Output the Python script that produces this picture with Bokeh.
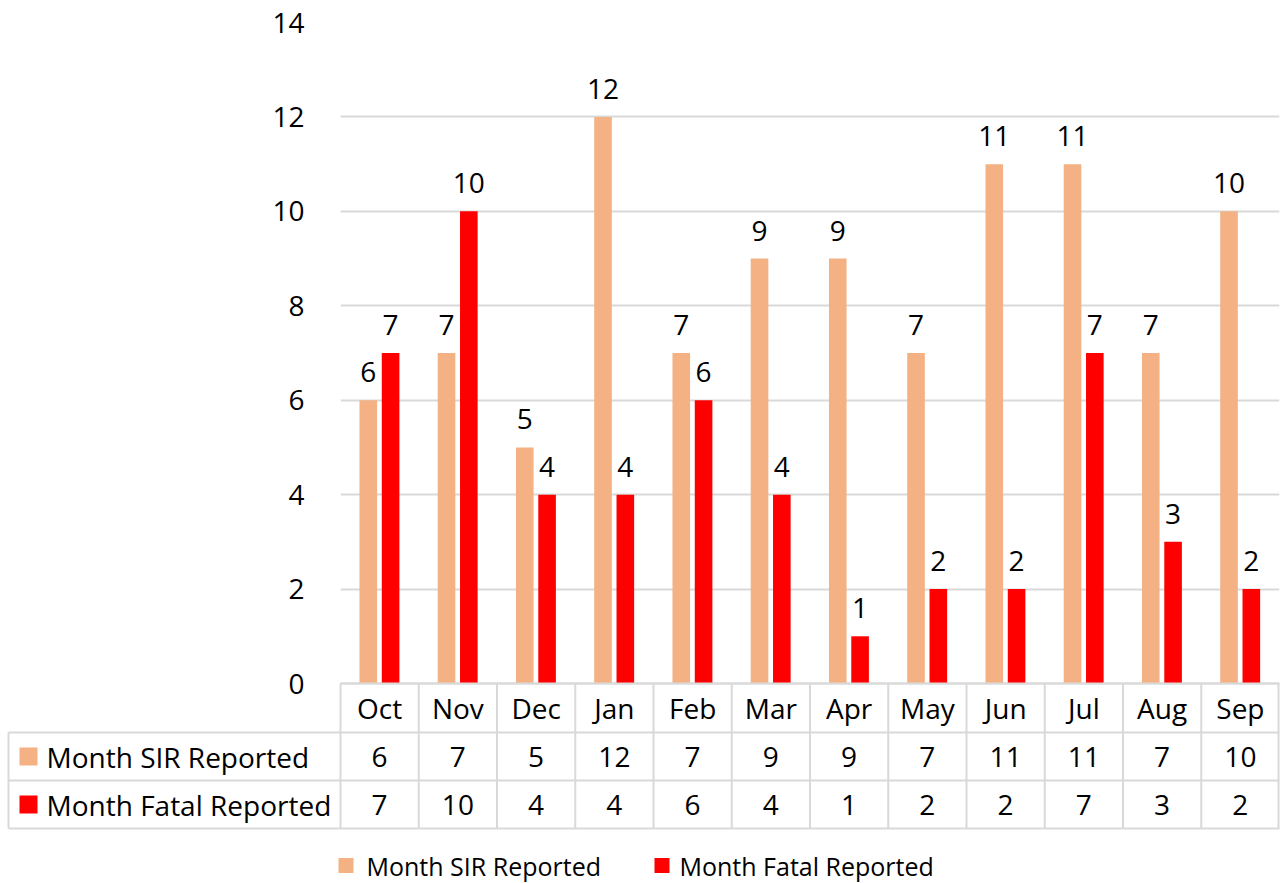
from bokeh.plotting import figure
from bokeh.models import ColumnDataSource, FixedTicker, Range1d
from bokeh.core.properties import value
from bokeh.embed import file_html
from bokeh.resources import INLINE

months = ["Oct", "Nov", "Dec", "Jan", "Feb", "Mar", "Apr", "May", "Jun", "Jul", "Aug", "Sep"]
sir = [6, 7, 5, 12, 7, 9, 9, 7, 11, 11, 7, 10]
fatal = [7, 10, 4, 4, 6, 4, 1, 2, 2, 7, 3, 2]
y_ticks = [0, 2, 4, 6, 8, 10, 12, 14]
series_names = ["Month SIR Reported", "Month Fatal Reported"]
series_colors = ["#F4B183", "#FF0000"]

FONT = "Open Sans"
FS = "28px"
GRID = "#D9D9D9"
W = 1280
H = 883
LEFT = 340
RIGHT = 1279
TOP = 22
ZERO = 683

n = len(months)
CAT_PX = (RIGHT - LEFT) / n
PXU = (ZERO - TOP) / 14.0
Y_START = -(H - ZERO) / PXU
X0 = -LEFT / CAT_PX
px = 1.0 / CAT_PX
py = 1.0 / PXU

idx = list(range(n))
src = ColumnDataSource(dict(
    xs=[i + 0.355 for i in idx], xf=[i + 0.64 for i in idx],
    sir=sir, fatal=fatal,
    sir_s=[str(v) for v in sir], fatal_s=[str(v) for v in fatal],
))

p = figure(x_range=Range1d(0, n), y_range=Range1d(Y_START, 14.0), width=W, height=H,
           output_backend="svg", toolbar_location=None, x_axis_location=None,
           min_border_left=LEFT, min_border_right=W - RIGHT, min_border_top=TOP,
           min_border_bottom=0)
p.outline_line_color = None
p.xgrid.visible = False
p.ygrid.ticker = FixedTicker(ticks=y_ticks)
p.ygrid.grid_line_color = GRID
p.ygrid.grid_line_width = 2
ax = p.yaxis[0]
ax.ticker = FixedTicker(ticks=y_ticks)
ax.axis_line_color = None
ax.major_tick_line_color = None
ax.minor_tick_line_color = None
ax.major_label_text_font = FONT
ax.major_label_text_font_size = FS
ax.major_label_text_color = "#000000"
ax.major_label_standoff = 30

for xc, col, lab, colr in [("xs", "sir", "sir_s", series_colors[0]),
                            ("xf", "fatal", "fatal_s", series_colors[1])]:
    p.vbar(x=xc, top=col, width=0.225, source=src, fill_color=colr, line_color=None)
    p.text(x=xc, y=col, text=lab, source=src,
           text_align="center", text_baseline="alphabetic", y_offset=-28,
           text_font=value(FONT), text_font_size=FS, text_color="#000000")

# ---- data table ----
r1, r2, r3 = -49 * py, -97 * py, -145 * py
xs0, ys0, xs1, ys1 = [], [], [], []
xs0 += [0]; ys0 += [0]; xs1 += [n]; ys1 += [0]
for r in [r1, r2, r3]:
    xs0.append(X0 + 8 * px); ys0.append(r); xs1.append(n); ys1.append(r)
for b in range(n + 1):
    xb = min(b, n - px)
    xs0.append(xb); ys0.append(0); xs1.append(xb); ys1.append(r3)
xs0.append(X0 + 8 * px); ys0.append(r1); xs1.append(X0 + 8 * px); ys1.append(r3)
p.segment(x0=xs0, y0=ys0, x1=xs1, y1=ys1, line_color=GRID, line_width=2, level="overlay")

centers = [i + 0.5 for i in idx]
for yy, txt in [((0 + r1) / 2, months), ((r1 + r2) / 2, [str(v) for v in sir]),
                ((r2 + r3) / 2, [str(v) for v in fatal])]:
    p.text(x=centers, y=[yy] * n, text=txt, text_align="center", text_baseline="middle",
           text_font=value(FONT), text_font_size=FS, text_color="#000000")

ym1, ym2 = (r1 + r2) / 2, (r2 + r3) / 2
# legend keys inside the table (squares drawn as thick butt-capped segments)
p.segment(x0=[X0 + 19 * px] * 2, y0=[ym1, ym2], x1=[X0 + 37 * px] * 2, y1=[ym1, ym2],
          line_color=series_colors, line_width=18, line_cap="butt", level="overlay")
p.text(x=[X0 + 46 * px] * 2, y=[ym1, ym2], text=series_names, text_align="left",
       text_baseline="middle", text_font=value(FONT), text_font_size=FS,
       text_color="#000000", level="overlay")

# ---- bottom legend ----
leg_y = -(865 - ZERO) * py
p.segment(x0=[X0 + 338 * px, X0 + 654 * px], y0=[leg_y] * 2,
          x1=[X0 + 353 * px, X0 + 669 * px], y1=[leg_y] * 2,
          line_color=series_colors, line_width=15, line_cap="butt", level="overlay")
p.text(x=[X0 + 366 * px, X0 + 679 * px], y=[leg_y] * 2, text=series_names, text_align="left",
       text_baseline="middle", text_font=value(FONT), text_font_size="25px",
       text_color="#000000", level="overlay")

open("out.html", "w").write(file_html(p, INLINE))
